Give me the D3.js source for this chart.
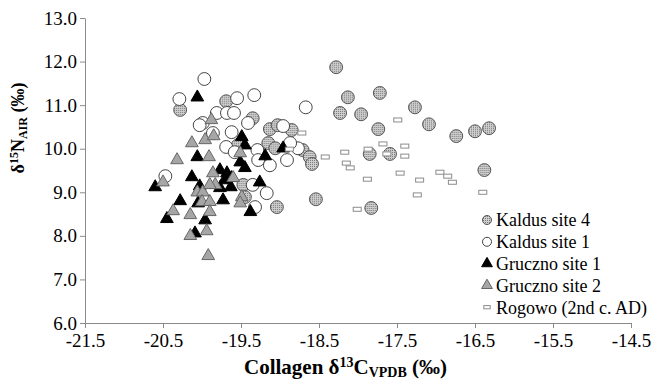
<!DOCTYPE html>
<html>
<head>
<meta charset="utf-8">
<script src="https://cdn.jsdelivr.net/npm/d3@7"></script>
<style>
  body { margin: 0; background: #fff; }
  svg text { font-family: "Liberation Serif", Tinos, "Times New Roman", Times, serif !important; fill: #000; }
</style>
</head>
<body>
<div id="chart"></div>
<script>
// collagen d13C (x) and d15N (y) per site
const kaldus4 = [
  [-18.28, 11.87], [-18.13, 11.18], [-17.72, 11.28], [-17.96, 10.79], [-18.23, 10.82],
  [-17.27, 10.95], [-17.09, 10.56], [-17.74, 10.45], [-16.74, 10.29], [-16.50, 10.40],
  [-16.32, 10.47], [-16.38, 9.51], [-17.85, 9.88], [-17.59, 9.88], [-17.83, 8.64],
  [-18.54, 8.84], [-20.28, 10.89], [-19.69, 11.09], [-19.35, 10.70], [-19.13, 10.45],
  [-19.03, 10.54], [-18.85, 10.43], [-19.15, 10.13], [-19.06, 10.01], [-18.71, 9.97],
  [-18.62, 9.81], [-18.59, 9.65], [-19.04, 8.66], [-19.47, 9.17], [-19.45, 8.89],
  [-19.54, 10.08]
];
const kaldus1 = [
  [-19.97, 11.60], [-20.29, 11.14], [-19.33, 11.23], [-19.55, 11.16], [-19.81, 10.82],
  [-19.68, 10.82], [-19.59, 10.82], [-19.99, 10.59], [-19.41, 10.59], [-19.86, 10.36],
  [-19.62, 10.38], [-19.69, 10.04], [-19.58, 9.92], [-19.29, 9.97], [-19.28, 9.74],
  [-18.67, 10.95], [-18.96, 10.52], [-18.77, 10.01], [-18.87, 10.13], [-18.91, 9.74],
  [-19.13, 9.62], [-19.35, 9.17], [-19.17, 8.98], [-19.32, 8.66], [-20.03, 10.54],
  [-20.47, 9.37]
];
const gruczno1 = [
  [-20.06, 11.18], [-20.60, 9.12], [-20.45, 8.39], [-20.28, 8.80], [-20.06, 9.81],
  [-20.13, 9.35], [-20.09, 8.06], [-19.96, 8.36], [-20.05, 8.75], [-20.03, 9.14],
  [-19.73, 8.82], [-19.77, 9.51], [-19.68, 9.44], [-19.63, 9.12], [-19.71, 9.28],
  [-19.49, 10.27], [-19.45, 10.08], [-19.51, 9.69], [-19.45, 9.56], [-19.62, 9.33],
  [-19.26, 9.23], [-19.77, 9.10], [-19.38, 8.55], [-19.19, 9.83], [-18.96, 10.01]
];
const gruczno2 = [
  [-20.32, 9.74], [-20.50, 9.23], [-20.37, 8.57], [-20.15, 8.48], [-20.15, 8.00],
  [-19.91, 9.81], [-19.86, 9.44], [-20.06, 9.00], [-19.99, 9.00], [-20.00, 8.78],
  [-19.90, 8.78], [-19.90, 8.55], [-19.94, 8.11], [-19.92, 7.54], [-19.88, 10.66],
  [-20.13, 10.13], [-19.96, 10.20], [-19.85, 10.29], [-19.60, 9.33], [-19.83, 9.17],
  [-19.49, 8.89], [-19.51, 8.75], [-19.51, 9.90], [-19.90, 9.17]
];
const rogowo = [
  [-18.72, 10.36], [-17.49, 10.66], [-17.68, 10.11], [-17.40, 10.06], [-17.40, 9.83],
  [-18.17, 9.92], [-18.15, 9.67], [-18.10, 9.56], [-17.87, 9.99], [-17.63, 9.88],
  [-17.88, 9.30], [-17.46, 9.44], [-17.21, 9.28], [-16.95, 9.46], [-16.85, 9.37],
  [-16.79, 9.23], [-17.24, 8.94], [-16.40, 9.00], [-18.01, 8.61], [-18.42, 9.81],
  [-18.88, 9.99]
];
const seriesNames = ["Kaldus site 4", "Kaldus site 1", "Gruczno site 1", "Gruczno site 2", "Rogowo (2nd c. AD)"];
const xTicks = [-21.5, -20.5, -19.5, -18.5, -17.5, -16.5, -15.5, -14.5];
const yTicks = [6, 7, 8, 9, 10, 11, 12, 13];

const width = 654, height = 379;
const svg = d3.select("#chart").append("svg")
  .attr("width", width)
  .attr("height", height);

// stipple fill for the Kaldus site 4 circles
const pat = svg.append("defs").append("pattern")
  .attr("id", "dots")
  .attr("patternUnits", "userSpaceOnUse")
  .attr("width", 2).attr("height", 2);
pat.append("rect").attr("width", 2).attr("height", 2).attr("fill", "#cfcfcf");
pat.append("rect").attr("width", 1).attr("height", 1).attr("fill", "#777");

const x = d3.scaleLinear().domain([-21.5, -14.5]).range([85, 631]);
const y = d3.scaleLinear().domain([6, 13]).range([323, 18]);

// axes
const axisColor = "#8a8a8a";
const gx = svg.append("g")
  .attr("transform", `translate(0,${y(6)})`)
  .call(d3.axisBottom(x).tickValues(xTicks).tickSize(5).tickSizeOuter(0).tickPadding(6));
const gy = svg.append("g")
  .attr("transform", `translate(${x(-21.5)},0)`)
  .call(d3.axisLeft(y).tickValues(yTicks).tickSize(5).tickSizeOuter(0).tickPadding(3));
[gx, gy].forEach(g => {
  g.attr("font-family", null);
  g.select(".domain").attr("stroke", axisColor);
  g.selectAll(".tick line").attr("stroke", axisColor);
  g.selectAll(".tick text")
    .attr("font-size", 19)
    .attr("fill", "#000")
    .text(d => d3.format(".1f")(d).replace("−", "-"));
});

// axis titles
const xt = svg.append("text")
  .attr("x", 244).attr("y", 374)
  .attr("font-size", 21).attr("font-weight", "bold");
xt.append("tspan").text("Collagen δ");
xt.append("tspan").text("13").attr("font-size", 14).attr("dy", -7);
xt.append("tspan").text("C").attr("dy", 7);
xt.append("tspan").text("VPDB").attr("font-size", 14).attr("dy", 3);
xt.append("tspan").text(" (‰)").attr("dy", -3);

const yt = svg.append("text")
  .attr("transform", "translate(24,128) rotate(-90)")
  .attr("text-anchor", "middle")
  .attr("font-size", 18).attr("font-weight", "bold");
yt.append("tspan").text("δ");
yt.append("tspan").text("15").attr("font-size", 12).attr("dy", -6);
yt.append("tspan").text("N").attr("dy", 6);
yt.append("tspan").text("AIR").attr("font-size", 12).attr("dy", 3);
yt.append("tspan").text(" (‰)").attr("dy", -3);

// marker styles
const styles = [
  { type: "circle", size: 130, fill: "url(#dots)", stroke: "#555" },
  { type: "circle", size: 130, fill: "#fff", stroke: "#444" },
  { type: "triangle", size: 70, fill: "#000", stroke: "#000" },
  { type: "triangle", size: 70, fill: "#a6a6a6", stroke: "#666" },
  { type: "rect", w: 8, h: 4, fill: "#fff", stroke: "#8c8c8c" }
];
const allSeries = [kaldus4, kaldus1, gruczno1, gruczno2, rogowo];

function drawMarker(g, st, scale) {
  if (st.type === "rect") {
    g.append("rect")
      .attr("x", -st.w * scale / 2).attr("y", -st.h * scale / 2)
      .attr("width", st.w * scale).attr("height", st.h * scale)
      .attr("fill", st.fill).attr("stroke", st.stroke).attr("stroke-width", 1);
  } else {
    const sym = st.type === "circle" ? d3.symbolCircle : d3.symbolTriangle;
    g.append("path")
      .attr("d", d3.symbol(sym, st.size * scale * scale)())
      .attr("fill", st.fill).attr("stroke", st.stroke).attr("stroke-width", 1);
  }
}

allSeries.forEach((data, i) => {
  const st = styles[i];
  svg.append("g").selectAll("g")
    .data(data)
    .join("g")
    .attr("transform", d => `translate(${x(d[0])},${y(d[1])})`)
    .each(function() { drawMarker(d3.select(this), st, 1); });
});

// legend
const legend = svg.append("g");
seriesNames.forEach((name, i) => {
  const ly = 220 + i * 21.8;
  const g = legend.append("g").attr("transform", `translate(487,${ly})`);
  drawMarker(g, styles[i], i < 2 ? 0.7 : (i < 4 ? 0.85 : 0.8));
  legend.append("text")
    .attr("x", 496).attr("y", ly)
    .attr("dy", "0.35em")
    .attr("font-size", 18)
    .text(name);
});
</script>
</body>
</html>
